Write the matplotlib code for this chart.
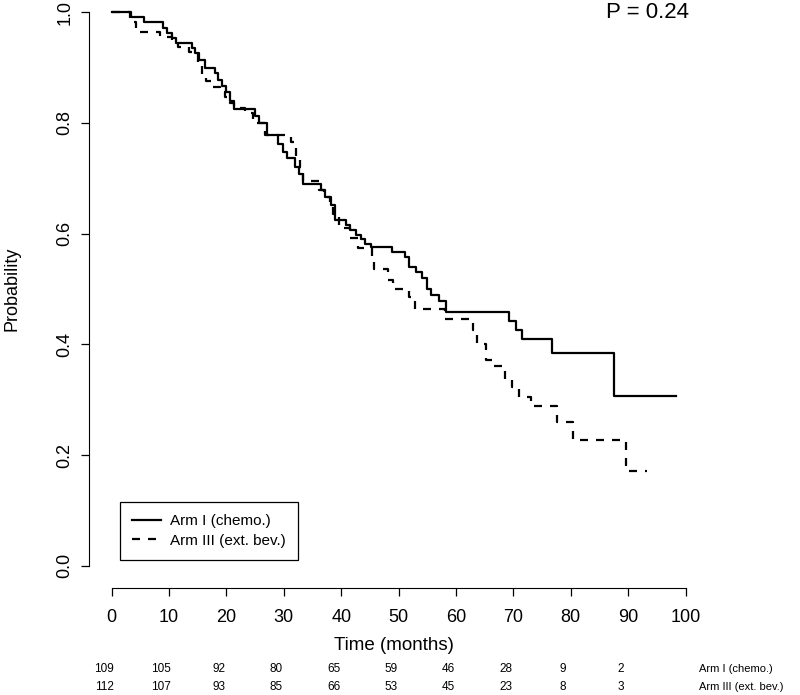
import matplotlib
matplotlib.use("Agg")
import matplotlib.pyplot as plt

plt.rcParams["font.family"] = ["Liberation Sans", "DejaVu Sans"]

# Kaplan-Meier step points
arm1_t = [0, 3.4, 5.7, 8.9, 9.7, 10.5, 11.3, 14.0, 14.6, 15.2, 16.2, 18.0, 18.6,
          19.2, 20.0, 20.6, 21.4, 25.0, 25.6, 27.0, 29.0, 29.8, 30.5, 31.9, 32.7,
          33.4, 36.4, 37.1, 38.2, 38.9, 40.8, 41.6, 42.5, 43.4, 44.2, 45.2, 48.8,
          51.2, 51.9, 53.0, 54.0, 54.9, 55.7, 57.1, 58.2, 69.3, 70.5, 71.5, 76.7,
          87.5, 98.4]
arm1_s = [1.0, 0.991, 0.982, 0.972, 0.963, 0.954, 0.945, 0.936, 0.926, 0.913,
          0.90, 0.89, 0.877, 0.866, 0.855, 0.84, 0.825, 0.812, 0.80, 0.778,
          0.762, 0.748, 0.736, 0.72, 0.708, 0.69, 0.679, 0.666, 0.652, 0.625,
          0.616, 0.606, 0.598, 0.59, 0.582, 0.576, 0.567, 0.558, 0.54, 0.53,
          0.52, 0.50, 0.49, 0.478, 0.458, 0.442, 0.426, 0.41, 0.384, 0.306,
          0.306]

arm3_t = [0, 3.2, 4.3, 8.4, 10.5, 11.5, 13.5, 15.0, 15.7, 16.5, 17.4, 18.8, 19.8,
          20.6, 21.4, 23.2, 24.6, 26.7, 31.2, 32.1, 32.8, 33.4, 36.2, 37.0, 38.0,
          38.6, 39.7, 41.5, 42.9, 45.3, 45.8, 48.1, 49.0, 51.9, 52.8, 58.0, 62.9,
          63.6, 65.3, 66.2, 68.5, 69.7, 71.0, 73.0, 77.6, 80.3, 89.6, 93.2]
arm3_s = [1.0, 0.982, 0.964, 0.955, 0.946, 0.937, 0.928, 0.91, 0.886, 0.875,
          0.865, 0.856, 0.846, 0.836, 0.826, 0.818, 0.80, 0.778, 0.765, 0.736,
          0.72, 0.695, 0.679, 0.666, 0.652, 0.635, 0.61, 0.592, 0.574, 0.556,
          0.536, 0.516, 0.50, 0.486, 0.464, 0.446, 0.426, 0.40, 0.372, 0.361,
          0.336, 0.323, 0.305, 0.289, 0.26, 0.228, 0.172, 0.172]

risk_times = [0, 10, 20, 30, 40, 50, 60, 70, 80, 90]
arm1_risk = [109, 105, 92, 80, 65, 59, 46, 28, 9, 2]
arm3_risk = [112, 107, 93, 85, 66, 53, 45, 23, 8, 3]
labels = ["Arm I (chemo.)", "Arm III (ext. bev.)"]

W, H = 800, 695
fig = plt.figure(figsize=(8, 6.95), dpi=100)
ax = fig.add_axes([89 / W, 1 - 588 / H, 610 / W, 598 / H])

ax.step(arm1_t, arm1_s, where="post", color="black", lw=1.6, label=labels[0])
ax.step(arm3_t, arm3_s, where="post", color="black", lw=1.6,
        linestyle=(0, (3.6, 3.6)), label=labels[1])

ax.set_xlim(-3.94, 102.34)
ax.set_ylim(-0.04, 1.04)
for s in ["top", "right"]:
    ax.spines[s].set_visible(False)
ax.spines["left"].set_bounds(0, 1)
ax.spines["bottom"].set_bounds(0, 100)
ax.set_xticks(range(0, 101, 10))
ax.set_yticks([0, 0.2, 0.4, 0.6, 0.8, 1.0])
ax.set_yticklabels(["0.0", "0.2", "0.4", "0.6", "0.8", "1.0"], rotation=90, va="center")
ax.tick_params(length=6, width=0.9, labelsize=13, pad=5)
ax.tick_params(axis="x", pad=9)

fig.text(12 / W, 1 - 289 / H, "Probability", rotation=90, ha="center", va="center", fontsize=13)
fig.text(394 / W, 1 - 646 / H, "Time (months)", ha="center", va="center", fontsize=13.5)
fig.text(648 / W, 1 - 12 / H, "P = 0.24", ha="center", va="center", fontsize=16)

leg = ax.legend(loc="upper left", bbox_to_anchor=(120 / W, 1 - 502 / H),
                bbox_transform=fig.transFigure, fontsize=11, frameon=True,
                fancybox=False, edgecolor="black", framealpha=1,
                handlelength=1.9, borderaxespad=0, borderpad=0.8,
                labelspacing=0.35, handletextpad=0.6)
leg.get_frame().set_linewidth(0.9)

# numbers at risk
for t, a, b in zip(risk_times, arm1_risk, arm3_risk):
    xp = (112 + t * 5.74 - 8) / W
    fig.text(xp, 1 - 669 / H, str(a), ha="center", va="center", fontsize=8.5)
    fig.text(xp, 1 - 687 / H, str(b), ha="center", va="center", fontsize=8.5)
fig.text(699 / W, 1 - 669 / H, labels[0], ha="left", va="center", fontsize=8)
fig.text(699 / W, 1 - 687 / H, labels[1], ha="left", va="center", fontsize=8)

plt.savefig("out.png", dpi=100)
